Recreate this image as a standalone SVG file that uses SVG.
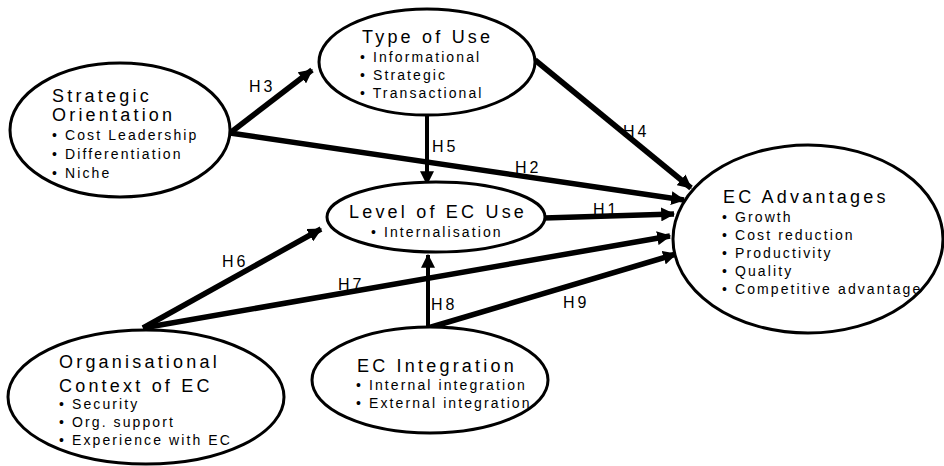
<svg xmlns="http://www.w3.org/2000/svg" width="944" height="466" viewBox="0 0 944 466">
<style>
.node ellipse{fill:#fff;stroke:#000;stroke-width:3}
.t{font-family:"Liberation Sans",Arial,sans-serif;font-size:18px;letter-spacing:3.2px;fill:#000}
.b{font-family:"Liberation Sans",Arial,sans-serif;font-size:14px;letter-spacing:2.1px;fill:#000}
.lbl{font-family:"Liberation Sans",Arial,sans-serif;font-size:16px;letter-spacing:3px;fill:#000}
.c line{stroke:#000;stroke-width:5.5;marker-end:url(#ah)}
</style>
<defs>
<marker id="ah" viewBox="0 0 12 12" refX="11" refY="6" markerWidth="14" markerHeight="14" markerUnits="userSpaceOnUse" orient="auto">
<path d="M0,0 L12,6 L0,12 z" fill="#000"/>
</marker>
</defs>
<rect width="944" height="466" fill="#fff"/>
<g class="c" id="connectors">
<line x1="230" y1="133" x2="312" y2="70"/>
<line x1="230" y1="133" x2="684" y2="200"/>
<line x1="535" y1="60" x2="691" y2="188"/>
<line x1="427" y1="115" x2="427" y2="184" style="stroke-width:4"/>
<line x1="544" y1="218" x2="674" y2="214"/>
<line x1="143" y1="328" x2="321" y2="229"/>
<line x1="143" y1="328" x2="670" y2="236"/>
<line x1="428" y1="328" x2="428" y2="255" style="stroke-width:4"/>
<line x1="428" y1="328" x2="676" y2="254"/>
<text class="lbl" x="249" y="92">H3</text>
<text class="lbl" x="515" y="173">H2</text>
<text class="lbl" x="623" y="137">H4</text>
<text class="lbl" x="432" y="152">H5</text>
<text class="lbl" x="593" y="215">H1</text>
<text class="lbl" x="222" y="267">H6</text>
<text class="lbl" x="338" y="290">H7</text>
<text class="lbl" x="431" y="310">H8</text>
<text class="lbl" x="563" y="308">H9</text>
</g>
<g class="node" id="strategic">
<ellipse cx="120" cy="130" rx="110" ry="67"/>
<text class="t" x="52" y="102">Strategic</text>
<text class="t" x="52" y="121">Orientation</text>
<text class="b" x="52" y="140">• Cost Leadership</text>
<text class="b" x="52" y="159">• Differentiation</text>
<text class="b" x="52" y="178">• Niche</text>
</g>
<g class="node" id="typeofuse">
<ellipse cx="427" cy="62" rx="108" ry="53"/>
<text class="t" x="362" y="43">Type of Use</text>
<text class="b" x="360" y="62">• Informational</text>
<text class="b" x="360" y="80">• Strategic</text>
<text class="b" x="360" y="98">• Transactional</text>
</g>
<g class="node" id="level">
<ellipse cx="436" cy="217" rx="109" ry="35"/>
<text class="t" x="349" y="218">Level of EC Use</text>
<text class="b" x="371" y="237">• Internalisation</text>
</g>
<g class="node" id="advantages">
<ellipse cx="808" cy="239" rx="135" ry="94"/>
<text class="t" x="723" y="203">EC Advantages</text>
<text class="b" x="722" y="222">• Growth</text>
<text class="b" x="722" y="240">• Cost reduction</text>
<text class="b" x="722" y="258">• Productivity</text>
<text class="b" x="722" y="276">• Quality</text>
<text class="b" x="722" y="294">• Competitive advantage</text>
</g>
<g class="node" id="orgcontext">
<ellipse cx="146" cy="397" rx="138" ry="67"/>
<text class="t" x="59" y="368">Organisational</text>
<text class="t" x="59" y="392">Context of EC</text>
<text class="b" x="59" y="409">• Security</text>
<text class="b" x="59" y="427">• Org. support</text>
<text class="b" x="59" y="445">• Experience with EC</text>
</g>
<g class="node" id="integration">
<ellipse cx="430" cy="380" rx="118" ry="53"/>
<text class="t" x="357" y="372">EC Integration</text>
<text class="b" x="356" y="390">• Internal integration</text>
<text class="b" x="356" y="408">• External integration</text>
</g>
</svg>
